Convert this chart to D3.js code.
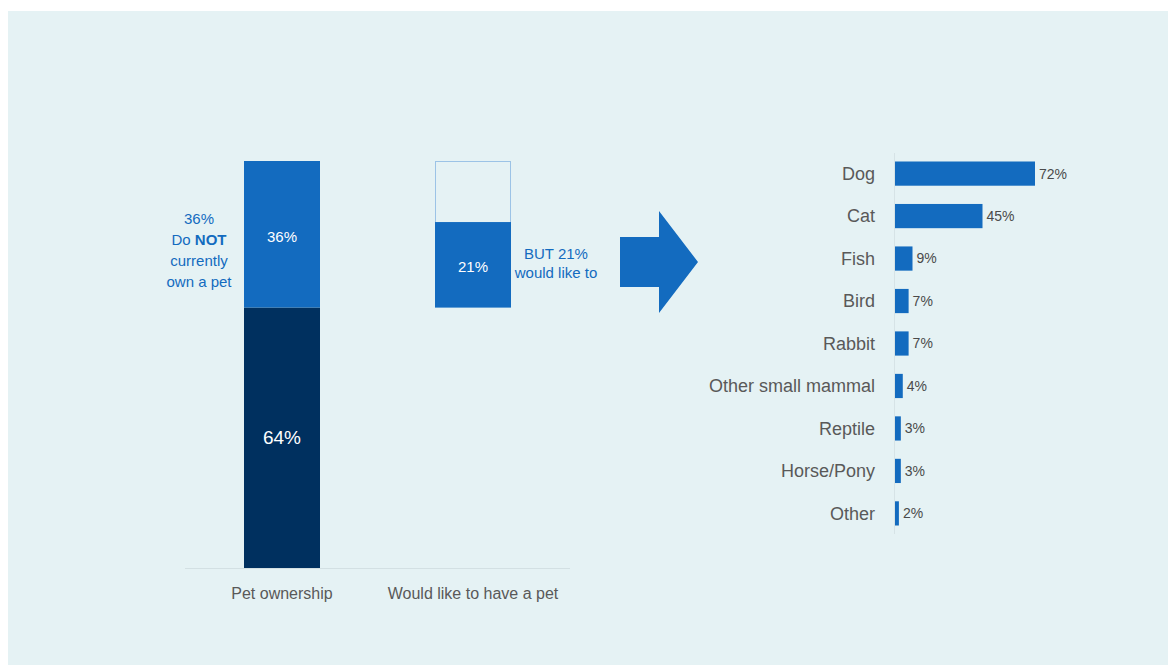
<!DOCTYPE html>
<html>
<head>
<meta charset="utf-8">
<script src="https://cdn.jsdelivr.net/npm/d3@7"></script>
<style>
  html, body { margin: 0; padding: 0; background: #ffffff; }
  svg { display: block; font-family: "Liberation Sans", Arial, sans-serif; }
</style>
</head>
<body>
<svg id="chart" width="1168" height="665"></svg>
<script>
// Left panel: ownership columns
const ownershipCategories = ["Pet ownership", "Would like to have a pet"];
const ownPct = 64;        // currently own a pet
const notOwnPct = 36;     // do not currently own a pet
const wouldLikePct = 21;  // of all respondents, non-owners who would like one

// Right panel: types of pet owned
const petTypes = ["Dog", "Cat", "Fish", "Bird", "Rabbit", "Other small mammal", "Reptile", "Horse/Pony", "Other"];
const petPct = [72, 45, 9, 7, 7, 4, 3, 3, 2];

const navy = "#00305f";
const blue = "#136bbf";
const labelGrey = "#595959";

const svg = d3.select("#chart");

// Background panel
svg.append("rect")
  .attr("x", 8).attr("y", 11)
  .attr("width", 1160).attr("height", 654)
  .attr("fill", "#e5f2f4");

// ---------- Left columns ----------
const x = d3.scalePoint().domain(ownershipCategories).range([282, 473]);
const y = d3.scaleLinear().domain([0, 100]).range([568, 161]);
const bw = 76;
const cx = c => x(c);

const left = svg.append("g");

// baseline
left.append("line")
  .attr("x1", 185).attr("x2", 570)
  .attr("y1", y(0) + 0.5).attr("y2", y(0) + 0.5)
  .attr("stroke", "#d3e0e3").attr("stroke-width", 1);

// Pet ownership stack
const c0 = ownershipCategories[0];
left.append("rect")
  .attr("x", cx(c0) - bw / 2).attr("width", bw)
  .attr("y", y(ownPct)).attr("height", y(0) - y(ownPct))
  .attr("fill", navy);
left.append("rect")
  .attr("x", cx(c0) - bw / 2).attr("width", bw)
  .attr("y", y(ownPct + notOwnPct)).attr("height", y(ownPct) - y(ownPct + notOwnPct))
  .attr("fill", blue);
left.append("text")
  .attr("x", cx(c0)).attr("y", y(ownPct / 2)).attr("dy", "0.35em")
  .attr("text-anchor", "middle").attr("fill", "#ffffff").attr("font-size", 19)
  .text(ownPct + "%");
left.append("text")
  .attr("x", cx(c0)).attr("y", y(ownPct + notOwnPct / 2) + 2).attr("dy", "0.35em")
  .attr("text-anchor", "middle").attr("fill", "#ffffff").attr("font-size", 15)
  .text(notOwnPct + "%");

// Would like to have a pet: outlined non-owner share, filled part who would like one
const c1 = ownershipCategories[1];
left.append("rect")
  .attr("x", cx(c1) - bw / 2 + 0.5).attr("width", bw - 1)
  .attr("y", y(ownPct + notOwnPct) + 0.5).attr("height", y(ownPct) - y(ownPct + notOwnPct) - 1)
  .attr("fill", "none").attr("stroke", "#9cc3e6").attr("stroke-width", 1);
left.append("rect")
  .attr("x", cx(c1) - bw / 2).attr("width", bw)
  .attr("y", y(ownPct + wouldLikePct)).attr("height", y(ownPct) - y(ownPct + wouldLikePct))
  .attr("fill", blue);
left.append("text")
  .attr("x", cx(c1)).attr("y", y(ownPct + wouldLikePct / 2) + 2).attr("dy", "0.35em")
  .attr("text-anchor", "middle").attr("fill", "#ffffff").attr("font-size", 15)
  .text(wouldLikePct + "%");

// category labels
left.selectAll("text.cat")
  .data(ownershipCategories)
  .join("text")
  .attr("class", "cat")
  .attr("x", d => cx(d)).attr("y", 593).attr("dy", "0.35em")
  .attr("text-anchor", "middle").attr("fill", labelGrey).attr("font-size", 16)
  .text(d => d);

// annotation left of first column
const ann = left.append("text")
  .attr("text-anchor", "middle").attr("fill", blue).attr("font-size", 15);
const annX = 199;
ann.append("tspan").attr("x", annX).attr("y", 224).text(notOwnPct + "%");
const l2 = ann.append("tspan").attr("x", annX).attr("y", 245);
l2.append("tspan").text("Do ");
l2.append("tspan").attr("font-weight", "bold").text("NOT");
ann.append("tspan").attr("x", annX).attr("y", 266).text("currently");
ann.append("tspan").attr("x", annX).attr("y", 287).text("own a pet");

// annotation right of second column
const ann2 = left.append("text")
  .attr("text-anchor", "middle").attr("fill", blue).attr("font-size", 15);
ann2.append("tspan").attr("x", 556).attr("y", 259).text("BUT " + wouldLikePct + "%");
ann2.append("tspan").attr("x", 556).attr("y", 278).text("would like to");

// ---------- Arrow ----------
const arrow = d3.path();
arrow.moveTo(620, 237);
arrow.lineTo(659, 237);
arrow.lineTo(659, 211);
arrow.lineTo(698, 262);
arrow.lineTo(659, 313);
arrow.lineTo(659, 287);
arrow.lineTo(620, 287);
arrow.closePath();
svg.append("path").attr("d", arrow.toString()).attr("fill", blue);

// ---------- Right horizontal bars ----------
const xr = d3.scaleLinear().domain([0, 72]).range([895, 1035]);
const yr = d3.scaleBand().domain(petTypes).range([153, 534]).paddingInner(0.43).paddingOuter(0.2);

const right = svg.append("g");

right.append("line")
  .attr("x1", 894.5).attr("x2", 894.5)
  .attr("y1", 153).attr("y2", 534)
  .attr("stroke", "#d6e3e6").attr("stroke-width", 1);

right.selectAll("rect.pet")
  .data(petTypes)
  .join("rect")
  .attr("class", "pet")
  .attr("x", xr(0))
  .attr("y", d => yr(d))
  .attr("width", (d, i) => xr(petPct[i]) - xr(0))
  .attr("height", yr.bandwidth())
  .attr("fill", blue);

right.selectAll("text.pname")
  .data(petTypes)
  .join("text")
  .attr("class", "pname")
  .attr("x", 875)
  .attr("y", d => yr(d) + yr.bandwidth() / 2)
  .attr("dy", "0.35em")
  .attr("text-anchor", "end").attr("fill", labelGrey).attr("font-size", 18)
  .text(d => d);

right.selectAll("text.pval")
  .data(petTypes)
  .join("text")
  .attr("class", "pval")
  .attr("x", (d, i) => xr(petPct[i]) + 4)
  .attr("y", d => yr(d) + yr.bandwidth() / 2)
  .attr("dy", "0.35em")
  .attr("fill", "#4a4a4a").attr("font-size", 14)
  .text((d, i) => petPct[i] + "%");
</script>
</body>
</html>
